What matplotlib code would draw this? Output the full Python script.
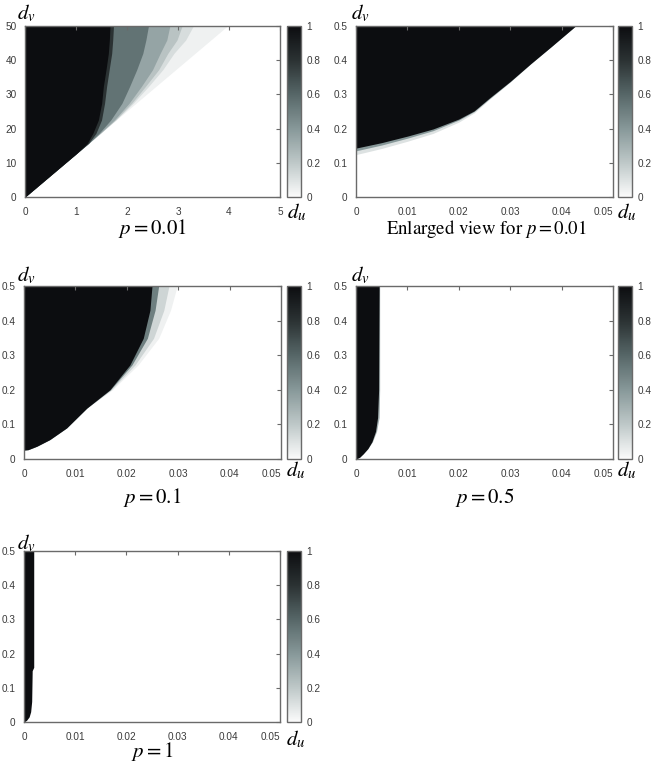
import numpy as np
import matplotlib
matplotlib.use("Agg")
import matplotlib.pyplot as plt
import matplotlib as mpl
from matplotlib.colors import LinearSegmentedColormap, Normalize

plt.rcParams['mathtext.fontset'] = 'stix'
plt.rcParams['font.family'] = ['Liberation Sans', 'DejaVu Sans']

# ---------------- data ----------------
# Panel p = 0.01 (full view): right edge du of each grey level, sampled at dv rows
P001_DV = [0, 12.8, 15.7, 18.6, 22.5, 27.4, 32.3, 37.2, 42.0, 45.9, 50]
P001_LEVELS = [0.04, 0.12, 0.22, 0.35, 0.55, 0.8, 1.0]
P001_EDGES = [
    [0, 1.016, 1.246, 1.476, 1.786, 2.175, 2.563, 2.952, 3.333, 3.643, 3.968],
    [0, 1.016, 1.246, 1.476, 1.78, 2.12, 2.42, 2.70, 2.92, 3.15, 3.30],
    [0, 1.016, 1.246, 1.474, 1.77, 2.09, 2.36, 2.62, 2.80, 2.98, 3.08],
    [0, 1.016, 1.246, 1.47, 1.75, 2.04, 2.28, 2.50, 2.65, 2.78, 2.84],
    [0, 1.016, 1.246, 1.45, 1.68, 1.90, 2.05, 2.19, 2.31, 2.37, 2.42],
    [0, 1.016, 1.245, 1.39, 1.50, 1.56, 1.60, 1.65, 1.70, 1.72, 1.735],
    [0, 1.016, 1.22, 1.33, 1.438, 1.503, 1.536, 1.588, 1.634, 1.654, 1.667],
]

# Enlarged view p = 0.01: lower edge dv of each level, sampled at du columns
P001Z_DU = [0, 0.005, 0.01, 0.015, 0.02, 0.023, 0.026, 0.03, 0.034, 0.038, 0.0427]
P001Z_LEVELS = [0.1, 0.4, 1.0]
P001Z_EDGES = [
    [0.124, 0.142, 0.163, 0.186, 0.219, 0.246, 0.286, 0.336, 0.389, 0.44, 0.5],
    [0.135, 0.152, 0.172, 0.194, 0.225, 0.25, 0.288, 0.337, 0.39, 0.44, 0.5],
    [0.143, 0.159, 0.178, 0.199, 0.228, 0.252, 0.29, 0.338, 0.39, 0.44, 0.5],
]

# Panel p = 0.1: right edge du of each level, sampled at dv rows
P01_DV = [0, 0.0259, 0.027, 0.037, 0.056, 0.09, 0.147, 0.2, 0.272, 0.349, 0.43, 0.5]
P01_LEVELS = [0.04, 0.15, 0.5, 1.0]
P01_EDGES = [
    [0, 0, 0.0008, 0.0025, 0.005, 0.0083, 0.0122, 0.0172, 0.0222, 0.0262, 0.0285, 0.0298],
    [0, 0, 0.0008, 0.0025, 0.005, 0.0083, 0.0122, 0.0170, 0.0216, 0.0252, 0.0272, 0.0282],
    [0, 0, 0.0008, 0.0025, 0.005, 0.0083, 0.0122, 0.0168, 0.0210, 0.0240, 0.0255, 0.0262],
    [0, 0, 0.0008, 0.0025, 0.005, 0.0083, 0.0122, 0.0167, 0.0206, 0.0232, 0.0245, 0.0249],
]

# Panel p = 0.5
P05_DV = [0, 0.005, 0.015, 0.03, 0.05, 0.08, 0.12, 0.2, 0.5]
P05_LEVELS = [0.3, 1.0]
P05_EDGES = [
    [0, 0.0007, 0.0014, 0.0023, 0.0032, 0.0040, 0.0045, 0.0046, 0.0046],
    [0, 0.0007, 0.0014, 0.0023, 0.0031, 0.0038, 0.0042, 0.0044, 0.0045],
]

# Panel p = 1
P1_DV = [0, 0.005, 0.015, 0.03, 0.06, 0.15, 0.16, 0.5]
P1_LEVELS = [1.0]
P1_EDGES = [
    [0, 0.0005, 0.0010, 0.0013, 0.0015, 0.0016, 0.0019, 0.0019],
]

X_TICKS_FULL = [0, 1, 2, 3, 4, 5]
Y_TICKS_FULL = [0, 10, 20, 30, 40, 50]
X_TICKS_ZOOM = [0, 0.01, 0.02, 0.03, 0.04, 0.05]
X_LABELS_ZOOM = ['0', '0.01', '0.02', '0.03', '0.04', '0.05']
Y_TICKS_ZOOM = [0, 0.1, 0.2, 0.3, 0.4, 0.5]
Y_LABELS_ZOOM = ['0', '0.1', '0.2', '0.3', '0.4', '0.5']
CB_TICKS = [0, 0.2, 0.4, 0.6, 0.8, 1]
CB_LABELS = ['0', '0.2', '0.4', '0.6', '0.8', '1']

TITLES = [r'$p = 0.01$', r'Enlarged view for $p = 0.01$', r'$p = 0.1$', r'$p = 0.5$', r'$p = 1$']
TITLE_SIZES = [15, 13.5, 15, 15, 15]

# ---------------- figure ----------------
W, H = 654, 770
fig = plt.figure(figsize=(W / 100, H / 100), dpi=100)
fig.patch.set_facecolor('white')

cmap = LinearSegmentedColormap.from_list('gr', [
    (0.0, '#fbfbfb'), (0.2, '#bec8c8'), (0.4, '#879899'),
    (0.6, '#566667'), (0.8, '#2b3233'), (1.0, '#0c0d10')])

SPINE = '#6a6a6a'
TICKC = '#3a3a3a'
TSIZE = 7.2


def rect(l, t, r, b):
    return [l / W, 1 - b / H, (r - l) / W, (b - t) / H]


def style_axes(ax, xmax, ymax, xt, xl, yt, yl):
    ax.set_xlim(0, xmax)
    ax.set_ylim(0, ymax)
    ax.set_xticks(xt)
    ax.set_xticklabels(xl)
    ax.set_yticks(yt)
    ax.set_yticklabels(yl)
    ax.tick_params(axis='x', direction='in', bottom=False, top=True, labelbottom=True,
                   length=3, width=0.8, color=SPINE, labelsize=TSIZE, labelcolor=TICKC, pad=7)
    ax.tick_params(axis='y', direction='in', left=False, right=True, labelleft=True,
                   length=3, width=0.8, color=SPINE, labelsize=TSIZE, labelcolor=TICKC, pad=6)
    labs = ax.get_xticklabels()
    if len(labs[-1].get_text()) > 1:
        labs[-1].set_horizontalalignment('right')
    for s in ax.spines.values():
        s.set_color(SPINE)
        s.set_linewidth(1.0)


def colorbar(cax):
    cb = mpl.colorbar.ColorbarBase(cax, cmap=cmap, norm=Normalize(0, 1), orientation='vertical')
    cb.set_ticks(CB_TICKS)
    cb.set_ticklabels(CB_LABELS)
    cb.outline.set_edgecolor(SPINE)
    cb.outline.set_linewidth(1.0)
    cax.tick_params(length=0, labelsize=TSIZE, labelcolor=TICKC, pad=4)


def fill_rows(ax, dv, levels, edges):
    for lev, ed in zip(levels, edges):
        ax.fill_betweenx(dv, 0, ed, color=cmap(lev), lw=0)


def fill_cols(ax, du, levels, edges, top):
    for lev, ed in zip(levels, edges):
        ax.fill_between(du, ed, top, color=cmap(lev), lw=0)


panels = [
    # axes rect, cbar rect, title x, title baseline, du label (x, y), dv label (x, y)
    ((25, 26, 280, 197), (287, 26, 301, 197), 152, 234, (287, 218), (17, 19)),
    ((356, 26, 613, 197), (618, 26, 632, 197), 486, 234, (617, 218), (351, 19)),
    ((24, 286, 281, 459), (287, 286, 301, 459), 152, 503, (286, 476), (17, 281)),
    ((356, 286, 613, 459), (618, 286, 632, 459), 485, 503, (617, 476), (351, 281)),
    ((24, 551, 280, 722), (287, 551, 301, 722), 152, 757, (286, 745), (17, 549)),
]

for i, (ar, cr, tx, ty, dul, dvl) in enumerate(panels):
    ax = fig.add_axes(rect(*ar))
    cax = fig.add_axes(rect(*cr))
    if i == 0:
        fill_rows(ax, P001_DV, P001_LEVELS, P001_EDGES)
        style_axes(ax, 5, 50, X_TICKS_FULL, [str(v) for v in X_TICKS_FULL],
                   Y_TICKS_FULL, [str(v) for v in Y_TICKS_FULL])
    else:
        if i == 1:
            fill_cols(ax, P001Z_DU, P001Z_LEVELS, P001Z_EDGES, 0.5)
        elif i == 2:
            fill_rows(ax, P01_DV, P01_LEVELS, P01_EDGES)
        elif i == 3:
            fill_rows(ax, P05_DV, P05_LEVELS, P05_EDGES)
        else:
            fill_rows(ax, P1_DV, P1_LEVELS, P1_EDGES)
        style_axes(ax, 0.05, 0.5, X_TICKS_ZOOM, X_LABELS_ZOOM, Y_TICKS_ZOOM, Y_LABELS_ZOOM)
    colorbar(cax)
    fig.text(tx / W, 1 - ty / H, TITLES[i], ha='center', va='baseline',
             fontsize=TITLE_SIZES[i], family='STIXGeneral', color='black')
    fig.text(dul[0] / W, 1 - dul[1] / H, r'$d_u$', ha='left', va='baseline', fontsize=15)
    fig.text(dvl[0] / W, 1 - dvl[1] / H, r'$d_v$', ha='left', va='baseline', fontsize=15)

fig.savefig('out.png', dpi=100, facecolor='white')
